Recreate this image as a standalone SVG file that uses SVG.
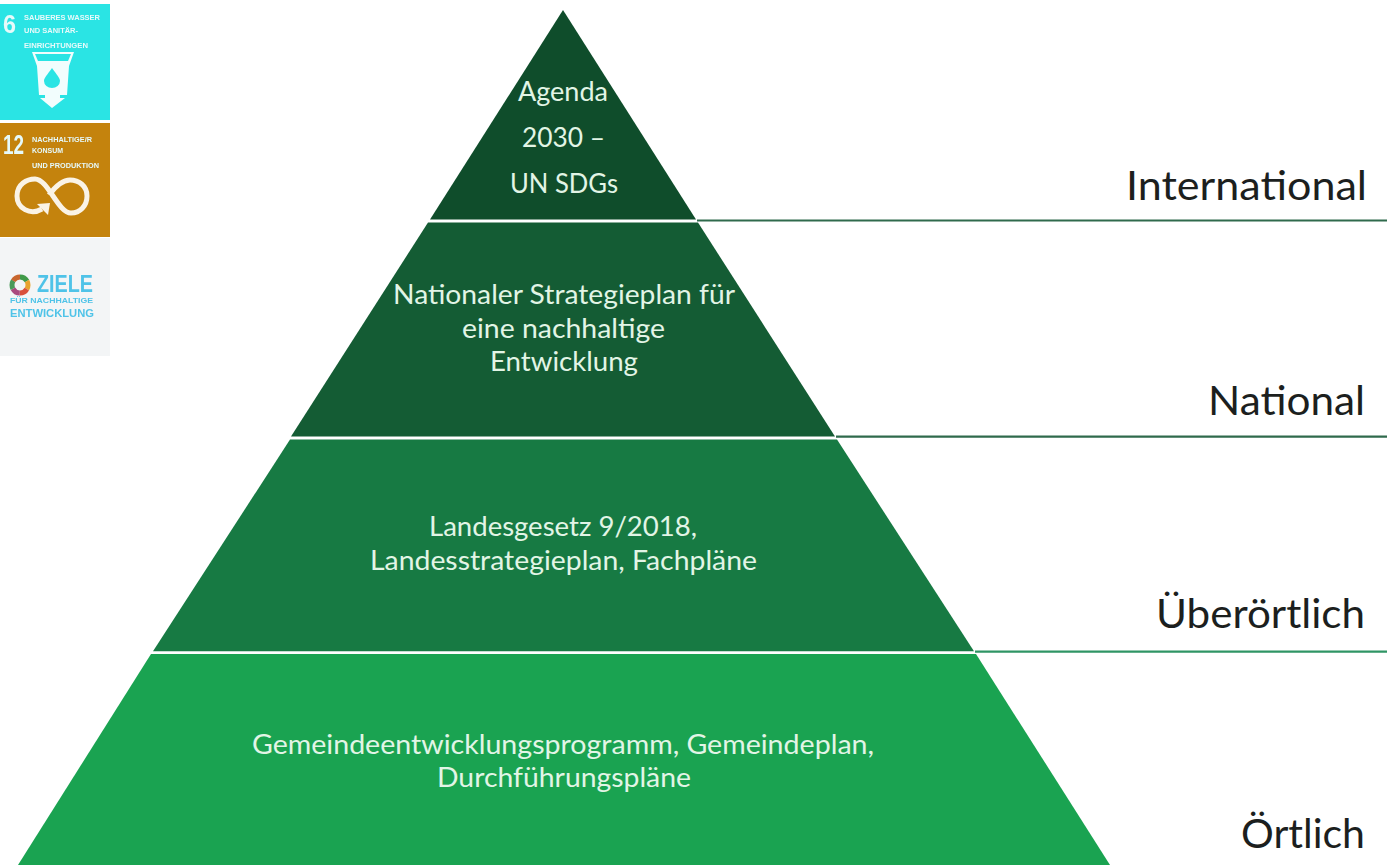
<svg xmlns="http://www.w3.org/2000/svg" width="1389" height="865" viewBox="0 0 1389 865">
<style>
.t{font-family:Lato,"Open Sans","Liberation Sans",sans-serif;text-anchor:start;fill:#e2f5e6;font-size:26px}
.l{font-family:Lato,"Open Sans","Liberation Sans",sans-serif;text-anchor:start;fill:#1c1f1e;font-size:41px}
.c{stroke:#2f6a4c;stroke-width:2.2;fill:none}
.b{font-family:"Liberation Sans",sans-serif;fill:#e6fafa;font-weight:bold}
.z{font-family:"Liberation Sans",sans-serif;fill:#4fc3e8;font-weight:bold}
.r{fill:none;stroke-width:5;stroke-dasharray:8.4 41.9}
</style>
<defs><filter id="soft" x="-5%" y="-5%" width="110%" height="110%"><feGaussianBlur stdDeviation="0.55"/></filter></defs>
<rect width="1389" height="865" fill="#fff"/>
<g id="sdg6" filter="url(#soft)">
<rect x="0" y="4" width="110" height="116" fill="#2ce4e4"/>
<text class="b" x="3" y="33" font-size="26" textLength="13" lengthAdjust="spacingAndGlyphs">6</text>
<text class="b" x="24" y="20" font-size="8" textLength="76" lengthAdjust="spacingAndGlyphs">SAUBERES WASSER</text>
<text class="b" x="24" y="33" font-size="8" textLength="54" lengthAdjust="spacingAndGlyphs">UND SANITÄR-</text>
<text class="b" x="24" y="48" font-size="8" textLength="64" lengthAdjust="spacingAndGlyphs">EINRICHTUNGEN</text>
<path d="M32 52H74L69 66L67 95H60V98H65L52 108L40 98H45V95H39L37 66Z" fill="#f2fdfd"/>
<path d="M35 54H71L68 61H38Z" fill="#2ce4e4"/>
<path d="M52 68C57 75 60 78 60 81A8 7 0 0 1 44 81C44 78 47 75 52 68Z" fill="#2ce4e4"/>
</g>
<g id="sdg12" filter="url(#soft)">
<rect x="0" y="123" width="110" height="114" fill="#c4830f"/>
<text class="b" x="3" y="154" font-size="27" textLength="21" lengthAdjust="spacingAndGlyphs">12</text>
<text class="b" x="32" y="142" font-size="8" textLength="60" lengthAdjust="spacingAndGlyphs">NACHHALTIGE/R</text>
<text class="b" x="32" y="153" font-size="8" textLength="31" lengthAdjust="spacingAndGlyphs">KONSUM</text>
<text class="b" x="32" y="168" font-size="8" textLength="67" lengthAdjust="spacingAndGlyphs">UND PRODUKTION</text>
<path d="M42 209C30 216 17 208 17 196C17 184 27 179 35 179C48 179 58 213 71 213C80 213 87 206 87 196C87 186 79 180 70 180C62 180 55 187 49 195" fill="none" stroke="#faf3e6" stroke-width="5"/>
<path d="M37 204L50 203L48 215Z" fill="#faf3e6"/>
</g>
<g id="ziele" filter="url(#soft)">
<rect x="0" y="238" width="110" height="118" fill="#f3f5f6"/>
<g transform="rotate(-90 20 285)">
<circle class="r" cx="20" cy="285" r="8" stroke="#3f9a4a"/>
<circle class="r" cx="20" cy="285" r="8" stroke="#e8a32e" stroke-dashoffset="-8.4"/>
<circle class="r" cx="20" cy="285" r="8" stroke="#d9503a" stroke-dashoffset="-16.8"/>
<circle class="r" cx="20" cy="285" r="8" stroke="#a94a7f" stroke-dashoffset="-25.2"/>
<circle class="r" cx="20" cy="285" r="8" stroke="#4a9a5a" stroke-dashoffset="-33.6"/>
<circle class="r" cx="20" cy="285" r="8" stroke="#c8662e" stroke-dashoffset="-41.9"/>
</g>
<text class="z" x="37" y="292" font-size="23" textLength="56" lengthAdjust="spacingAndGlyphs">ZIELE</text>
<text class="z" x="10" y="303" font-size="8" textLength="83" lengthAdjust="spacingAndGlyphs">FÜR NACHHALTIGE</text>
<text class="z" x="10" y="317" font-size="11" textLength="84" lengthAdjust="spacingAndGlyphs">ENTWICKLUNG</text>
</g>
<g id="connectors">
<path class="c" d="M697 220.5H1387"/>
<path class="c" d="M836 436.7H1387"/>
<path class="c" d="M975 651.7H1387" style="stroke:#2f9565"/>
</g>
<g id="tier1">
<polygon points="563,10 696,219.5 430,219.5" fill="#0f4d2b"/>
<text class="t" x="518" y="101" textLength="90" lengthAdjust="spacingAndGlyphs">Agenda</text>
<text class="t" x="522" y="147" textLength="83" lengthAdjust="spacingAndGlyphs">2030 –</text>
<text class="t" x="510" y="193" textLength="108" lengthAdjust="spacingAndGlyphs">UN SDGs</text>
</g>
<g id="tier2">
<polygon points="428,222.5 698,222.5 835,436.5 291,436.5" fill="#145c34"/>
<text class="t" x="393" y="304" textLength="342" lengthAdjust="spacingAndGlyphs">Nationaler Strategieplan für</text>
<text class="t" x="462" y="338" textLength="203" lengthAdjust="spacingAndGlyphs">eine nachhaltige</text>
<text class="t" x="490" y="371" textLength="148" lengthAdjust="spacingAndGlyphs">Entwicklung</text>
</g>
<g id="tier3">
<polygon points="290,439.5 837,439.5 974,651.3 153,651.3" fill="#177a43"/>
<text class="t" x="429" y="536" textLength="268" lengthAdjust="spacingAndGlyphs">Landesgesetz 9/2018,</text>
<text class="t" x="370" y="570" textLength="387" lengthAdjust="spacingAndGlyphs">Landesstrategieplan, Fachpläne</text>
</g>
<g id="tier4">
<polygon points="151,654 976,654 1110,865 18,865" fill="#1aa351"/>
<text class="t" x="252" y="754" textLength="622" lengthAdjust="spacingAndGlyphs">Gemeindeentwicklungsprogramm, Gemeindeplan,</text>
<text class="t" x="437" y="787" textLength="254" lengthAdjust="spacingAndGlyphs">Durchführungspläne</text>
</g>
<g id="labels">
<text class="l" x="1126" y="200" textLength="241" lengthAdjust="spacingAndGlyphs">International</text>
<text class="l" x="1208" y="415" textLength="157" lengthAdjust="spacingAndGlyphs">National</text>
<text class="l" x="1156" y="628" textLength="209" lengthAdjust="spacingAndGlyphs">Überörtlich</text>
<text class="l" x="1241" y="848" textLength="124" lengthAdjust="spacingAndGlyphs">Örtlich</text>
</g>
</svg>
